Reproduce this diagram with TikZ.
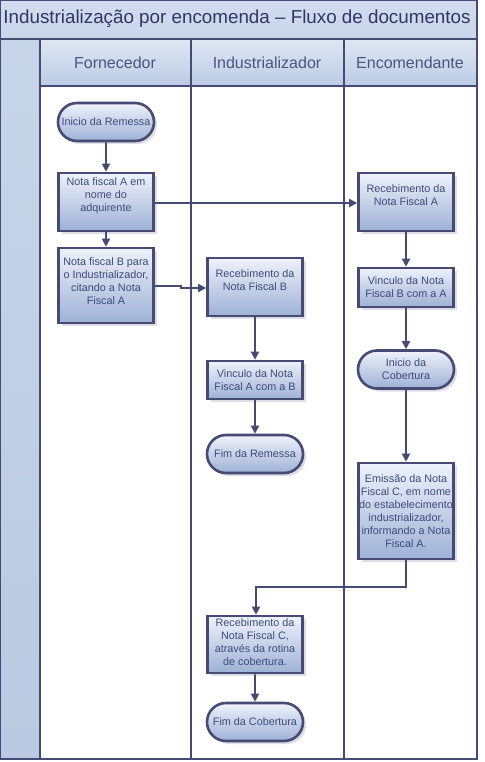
\documentclass[tikz,border=0pt]{standalone}
\usepackage{fontspec}
\setmainfont{Liberation Sans}
\usetikzlibrary{arrows.meta,shapes.misc,shadows}
\definecolor{navy}{HTML}{464A74}
\definecolor{txt}{HTML}{3D4A7C}
\definecolor{ttl}{HTML}{2E3766}
\definecolor{hdr}{HTML}{4A5583}
\definecolor{boxtop}{HTML}{EEF2FA}
\definecolor{boxbot}{HTML}{9EB1D6}
\definecolor{bandtop}{HTML}{D2DCEE}
\definecolor{bandbot}{HTML}{BBCBE4}
\definecolor{leftcol}{HTML}{B9CAE2}
\tikzset{
  frame/.style={draw=navy, line width=2.6pt},
  proc/.style={draw=navy, line width=2.6pt, rectangle, top color=boxtop, bottom color=boxbot,
    minimum width=95pt, inner sep=1pt,
    drop shadow={shadow xshift=3pt, shadow yshift=-3pt, opacity=0.3, fill=navy!60}},
  term/.style={proc, rounded rectangle, minimum width=98pt, minimum height=38pt},
  lbl/.style={align=center, text=txt, font=\fontsize{10.8}{13}\selectfont},
  flow/.style={draw=navy, line width=1.8pt, -{Triangle[length=8pt,width=8pt]}},
  hdrtext/.style={text=hdr, font=\fontsize{16}{18}\selectfont}
}
\begin{document}
\begin{tikzpicture}[x=1pt,y=-1pt]
\useasboundingbox (0,0) rectangle (484,762);
% backgrounds
\shade[top color=bandtop, bottom color=bandbot!80!white] (0,0) rectangle (477,39);
\shade[top color=leftcol!80!white, bottom color=leftcol] (0,39) rectangle (40,759);
\shade[top color=bandtop!70!white, bottom color=bandbot] (40,39) rectangle (477,86);
\fill[white] (40,86) rectangle (477,759);
% grid lines
\draw[frame] (0,0) rectangle (477,759);
\draw[frame] (0,39) -- (477,39);
\draw[frame] (40,39) -- (40,759);
\draw[frame] (40,86) -- (477,86);
\draw[frame] (191,39) -- (191,759);
\draw[frame] (344,39) -- (344,759);
% titles
\node[text=ttl, font=\fontsize{18.8}{21}\selectfont] (title) at (237,19) {Industrialização por encomenda – Fluxo de documentos};
\node[hdrtext] (h1) at (115,63) {Fornecedor};
\node[hdrtext] (h2) at (267,63) {Industrializador};
\node[hdrtext] (h3) at (410,63) {Encomendante};
% Fornecedor lane
\node[term, lbl] (ir) at (106,122) {Inicio da Remessa};
\node[proc, minimum height=58pt, label={[lbl, yshift=6pt]center:Nota fiscal A em\\nome do\\adquirente}] (nfa) at (106,202) {};
\node[proc, minimum height=75pt, label={[lbl, yshift=4pt]center:Nota fiscal B para\\o Industrializador,\\citando a Nota\\Fiscal A}] (nfb) at (106,285.5) {};
% Industrializador lane
\node[proc, minimum height=58pt, label={[lbl, yshift=7pt]center:Recebimento da\\Nota Fiscal B}] (recb) at (255,287) {};
\node[proc, minimum height=38pt, label={[lbl]center:Vinculo da Nota\\Fiscal A com a B}] (vab) at (255,380) {};
\node[term, lbl] (fr) at (255,454) {Fim da Remessa};
\node[proc, minimum height=57pt, label={[lbl, yshift=2pt]center:Recebimento da\\Nota Fiscal C,\\através da rotina\\de cobertura.}] (recc) at (255,644.5) {};
\node[term, lbl] (fc) at (255,722) {Fim da Cobertura};
% Encomendante lane
\node[proc, minimum height=58pt, label={[lbl, yshift=7pt]center:Recebimento da\\Nota Fiscal A}] (reca) at (406,202) {};
\node[proc, minimum height=39pt, label={[lbl]center:Vinculo da Nota\\Fiscal B com a A}] (vba) at (406,287.5) {};
\node[term, lbl] (ic) at (406,369.5) {Inicio da\\Cobertura};
\node[proc, minimum height=96pt, label={[lbl]center:Emissão da Nota\\Fiscal C, em nome\\do estabelecimento\\industrializador,\\informando a Nota\\Fiscal A.}] (emc) at (406,511) {};
% connectors
\draw[flow] (ir) -- (nfa);
\draw[flow] (nfa) -- (nfb);
\draw[flow] (nfa.east |- 0,203) -- (reca.west |- 0,203);
\draw[flow] (nfb.east |- 0,286) -- (181,286) -- (181,288) -- (recb.west |- 0,288);
\draw[flow] (recb) -- (vab);
\draw[flow] (vab) -- (fr);
\draw[flow] (reca) -- (vba);
\draw[flow] (vba) -- (ic);
\draw[flow] (ic) -- (emc);
\draw[flow] (emc.south) |- (256,587) -- (recc.north -| 256,0);
\draw[flow] (recc) -- (fc);
\end{tikzpicture}
\end{document}
